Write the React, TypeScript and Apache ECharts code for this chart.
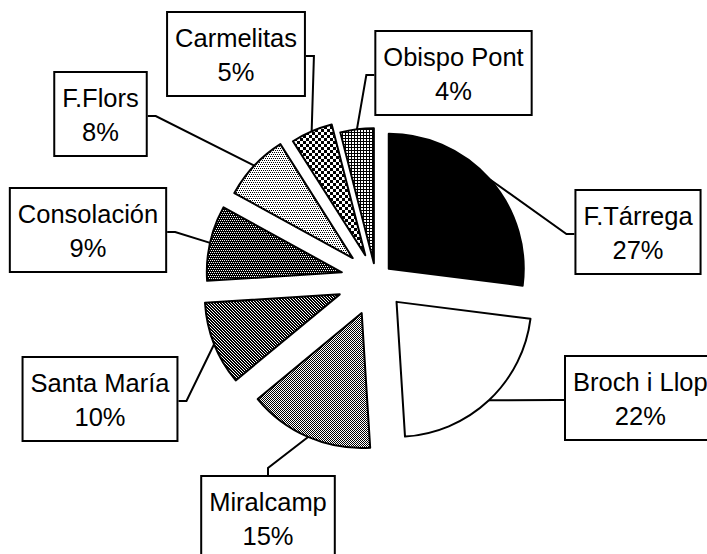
import React, { useEffect, useRef } from "react";
import * as echarts from "echarts";

// ---- data ----
const categories = [
  "F.Tárrega",
  "Broch i Llop",
  "Miralcamp",
  "Santa María",
  "Consolación",
  "F.Flors",
  "Carmelitas",
  "Obispo Pont",
];
const shares = [27, 22, 15, 10, 9, 8, 5, 4];

// ---- layout (pixels) ----
const PIE_CENTER = [376, 280];
const RADIUS = 135;
const EXPLODE = [17, 30, 36, 39, 35, 32, 27, 17];
const LABEL_BOX: { cx?: number; left?: number; top: number; side: string; pad?: number[] }[] = [
  { cx: 638, top: 191, side: "left" },
  { left: 564, top: 357, side: "left", pad: [8, 16, 6, 7] },
  { cx: 268, top: 477, side: "top" },
  { cx: 100, top: 358, side: "right" },
  { cx: 88, top: 189, side: "right" },
  { cx: 100.5, top: 73, side: "right" },
  { cx: 236, top: 13, side: "right" },
  { cx: 453.5, top: 32, side: "left" },
];

function makePattern(w: number, h: number, fn: (x: number, y: number) => boolean) {
  const c = document.createElement("canvas");
  c.width = w;
  c.height = h;
  const ctx = c.getContext("2d")!;
  ctx.fillStyle = "#fff";
  ctx.fillRect(0, 0, w, h);
  ctx.fillStyle = "#000";
  for (let y = 0; y < h; y++)
    for (let x = 0; x < w; x++) if (fn(x, y)) ctx.fillRect(x, y, 1, 1);
  return { image: c.toDataURL(), repeat: "repeat", imageWidth: w, imageHeight: h } as any;
}

export default function App() {
  const ref = useRef<HTMLDivElement>(null);
  useEffect(() => {
    if (!ref.current) return;
    const chart = echarts.init(ref.current, null, { renderer: "svg" });

    const fills: any[] = [
      "#000000",
      "#ffffff",
      makePattern(2, 2, (x, y) => (x + y) % 2 === 0),
      makePattern(3, 3, (x, y) => (((x - y) % 3) + 3) % 3 !== 0),
      makePattern(4, 4, (x, y) => !((x % 2 === 0 && y % 4 === 0) || (x % 2 === 1 && y % 4 === 2))),
      makePattern(4, 4, (x, y) => (x % 2 === 0 && y % 4 === 0) || (x % 2 === 1 && y % 4 === 2)),
      makePattern(6, 6, (x, y) => (Math.floor(x / 3) + Math.floor(y / 3)) % 2 === 0),
      makePattern(3, 3, (x, y) => x === 0 || y === 0),
    ];

    const total = shares.reduce((a, b) => a + b, 0);
    let cum = 0;
    const series = categories.map((_, i) => {
      const mid = ((cum + shares[i] / 2) / total) * Math.PI * 2;
      cum += shares[i];
      const cx = PIE_CENTER[0] + EXPLODE[i] * Math.sin(mid);
      const cy = PIE_CENTER[1] - EXPLODE[i] * Math.cos(mid);
      const start = [cx + RADIUS * Math.sin(mid), cy - RADIUS * Math.cos(mid)];
      const box = LABEL_BOX[i];
      return {
        type: "pie",
        center: [cx, cy],
        radius: RADIUS,
        startAngle: 90,
        clockwise: true,
        avoidLabelOverlap: false,
        silent: true,
        z: 2,
        data: categories.map((name, j) => ({
          name,
          value: shares[j],
          itemStyle:
            j === i
              ? { color: fills[j], borderColor: "#000", borderWidth: 2 }
              : { color: "rgba(0,0,0,0)", borderWidth: 0 },
          label: j === i ? { show: true, padding: box.pad || [8, 7, 6, 7] } : { show: false },
          labelLine: { show: j === i },
        })),
        label: {
          position: "outside",
          formatter: (p: any) => `${p.name}\n${Math.round(p.percent)}%`,
          color: "#000",
          fontFamily: "'Liberation Sans', Arial, sans-serif",
          fontSize: 25.5,
          lineHeight: 34,
          backgroundColor: "#fff",
          borderColor: "#000",
          borderWidth: 2,
          align: "center",
          overflow: "none",
        },
        labelLine: {
          show: true,
          length: 15,
          length2: 10,
          smooth: false,
          lineStyle: { color: "#000", width: 2 },
        },
        labelLayout: (p: any) => {
          if (p.dataIndex !== i) return {};
          const w = p.labelRect.width;
          const h = p.labelRect.height;
          const bcx = box.left != null ? box.left + w / 2 : (box.cx as number);
          const left = bcx - w / 2;
          const top = box.top;
          let end: number[];
          let elbow: number[];
          if (box.side === "left") {
            end = [left, top + h / 2];
            elbow = [left - 8, top + h / 2];
          } else if (box.side === "right") {
            end = [left + w, top + h / 2];
            elbow = [left + w + 8, top + h / 2];
          } else {
            end = [bcx, top];
            elbow = [bcx, top - 9];
          }
          return {
            x: bcx,
            y: top,
            align: "center",
            verticalAlign: "top",
            labelLinePoints: [start, elbow, end],
          };
        },
      };
    });

    chart.setOption({
      animation: false,
      backgroundColor: "#ffffff",
      series,
    } as any);
    return () => chart.dispose();
  }, []);
  return (
    <div
      ref={ref}
      style={{ position: "fixed", left: 0, top: 0, width: 707, height: 554 }}
    />
  );
}
